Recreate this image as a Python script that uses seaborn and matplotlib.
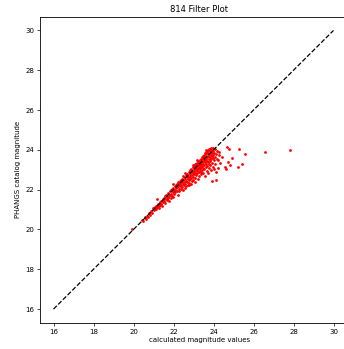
import matplotlib
matplotlib.use("Agg")
import matplotlib.pyplot as plt
import seaborn as sns
import pandas as pd

title = "814 Filter Plot"
xlabel = "calculated magnitude values"
ylabel = "PHANGS catalog magnitude"
ticks = [16, 18, 20, 22, 24, 26, 28, 30]
line_x = [16, 30]
line_y = [16, 30]

calc_mag = [
    19.92, 20.42, 20.48, 20.55, 20.60, 20.66, 20.71, 20.78, 20.82, 20.88, 20.93, 20.97,
    21.02, 21.05, 21.08, 21.11, 21.14, 21.17, 21.19, 21.22, 21.25, 21.27, 21.30, 21.33,
    21.36, 21.39, 21.42, 21.45, 21.48, 21.51, 21.54, 21.57, 21.59,
    21.62, 21.64, 21.66, 21.69, 21.71, 21.73, 21.76, 21.78, 21.80, 21.82, 21.85, 21.87,
    21.89, 21.91, 21.93, 21.95, 21.97, 21.99, 22.01, 22.03, 22.05, 22.07, 22.09, 22.11,
    22.13, 22.15, 22.17, 22.19, 22.20, 21.96,
    22.22, 22.23, 22.25, 22.27, 22.28, 22.30, 22.32, 22.33, 22.35, 22.37, 22.38, 22.40,
    22.42, 22.43, 22.45, 22.47, 22.48, 22.50, 22.52, 22.53, 22.55, 22.57, 22.58, 22.60,
    22.62, 22.63, 22.65, 22.67, 22.68, 22.70, 22.72, 22.73, 22.75, 22.76, 22.77, 22.78,
    22.79, 22.80, 22.46, 22.58,
    22.81, 22.82, 22.84, 22.85, 22.86, 22.88, 22.89, 22.90, 22.92, 22.93, 22.95, 22.96,
    22.97, 22.99, 23.00, 23.01, 23.03, 23.04, 23.05, 23.07, 23.08, 23.09, 23.10, 23.12,
    23.13, 23.14, 23.15, 23.17, 23.18, 23.19, 23.20, 23.21, 23.22, 23.24, 23.25, 23.26,
    23.27, 23.28, 23.29, 23.30, 23.31, 23.32, 23.33, 23.34, 23.35, 23.36, 23.37, 23.38,
    23.39, 23.40, 23.05, 23.18, 22.95,
    23.41, 23.42, 23.43, 23.44, 23.45, 23.46, 23.47, 23.48, 23.49, 23.50, 23.51, 23.52,
    23.53, 23.54, 23.55, 23.56, 23.57, 23.58, 23.59, 23.60, 23.61, 23.62, 23.63, 23.64,
    23.65, 23.66, 23.67, 23.68, 23.69, 23.70, 23.71, 23.72, 23.73, 23.74, 23.75, 23.76,
    23.77, 23.78, 23.79, 23.80, 23.81, 23.82, 23.83, 23.84, 23.85, 23.86, 23.87, 23.88,
    23.89, 23.90, 23.91, 23.92, 23.93, 23.94, 23.95, 23.96, 23.97, 23.98, 23.99, 23.60,
    24.01, 24.03, 24.04, 24.06, 24.07, 24.09, 24.11, 24.12, 24.14, 24.15, 24.17, 24.20,
    24.22, 24.25, 24.27, 24.33, 24.42,
    24.57, 24.64, 24.65, 24.70, 24.77, 24.80, 24.90, 25.24, 25.25, 25.42, 25.58, 26.55, 27.80,
]

phangs_mag = [
    20.00, 20.47, 20.40, 20.62, 20.52, 20.70, 20.63, 20.85, 20.74, 20.95, 20.81, 21.06,
    20.98, 21.15, 21.02, 21.20, 21.05, 21.55, 21.12, 21.30, 21.18, 21.10, 21.38, 21.25,
    21.44, 21.30, 21.20, 21.52, 21.38, 21.60, 21.42, 21.35, 21.66,
    21.55, 21.75, 21.48, 21.62, 21.85, 21.58, 21.70, 21.45, 21.92, 21.74, 21.60, 21.98,
    21.80, 21.68, 22.05, 21.88, 21.62, 22.10, 21.95, 21.80, 22.18, 22.00, 21.86, 22.25,
    22.08, 21.92, 22.30, 22.12, 21.75, 22.28,
    22.20, 22.38, 22.05, 22.28, 21.95, 22.45, 22.18, 22.35, 22.02, 22.50, 22.25, 22.40,
    22.12, 22.55, 22.30, 22.00, 22.48, 22.22, 22.62, 22.38, 22.10, 22.55, 22.30, 22.72,
    22.45, 22.18, 22.62, 22.38, 22.80, 22.55, 22.25, 22.70, 22.48, 22.22, 22.88, 22.62,
    22.35, 22.78, 22.70, 22.85,
    22.52, 23.00, 22.68, 22.30, 22.88, 22.58, 23.05, 22.75, 22.42, 22.95, 22.65, 23.12,
    22.85, 22.50, 23.05, 22.78, 23.20, 22.92, 22.60, 23.10, 22.85, 22.40, 23.28, 23.00,
    22.72, 23.18, 22.95, 23.35, 23.08, 22.82, 22.55, 23.25, 23.02, 23.42, 23.15, 22.88,
    23.32, 22.68, 23.10, 23.48, 23.22, 22.95, 23.40, 23.05, 22.78, 23.55, 23.30, 23.12,
    22.88, 23.45, 23.30, 23.50, 23.22,
    23.20, 23.62, 22.98, 23.38, 23.70, 23.10, 23.52, 22.85, 23.30, 23.75, 23.45, 23.02,
    23.62, 23.25, 23.82, 23.50, 22.70, 23.38, 23.70, 23.12, 23.88, 23.55, 23.28, 23.78,
    22.95, 23.45, 23.92, 23.62, 23.18, 23.85, 23.40, 23.98, 23.70, 22.82, 23.55, 24.02,
    23.30, 23.80, 23.08, 23.95, 23.62, 23.45, 24.05, 23.22, 23.75, 23.90, 23.52, 22.98,
    24.08, 23.68, 23.35, 23.85, 24.00, 22.42, 23.58, 23.15, 23.92, 23.72, 24.11, 24.00,
    23.48, 23.82, 23.05, 23.65, 24.02, 23.30, 23.78, 22.90, 22.47, 23.55, 23.95, 23.48,
    23.10, 23.72, 23.89, 23.34, 23.64,
    23.14, 23.02, 24.16, 23.41, 24.03, 23.23, 23.58, 23.14, 24.03, 23.31, 23.81, 23.89, 24.01,
]

df = pd.DataFrame({"calc": calc_mag, "phangs": phangs_mag})
line_df = pd.DataFrame({"x": line_x, "y": line_y})

fs = 5.0
fig = plt.figure(figsize=(3.44, 3.49), dpi=100)
# axes extends past the right edge of the figure (right spine cut off)
ax = fig.add_axes([39.5 / 344, 26 / 349, 320 / 344, 306.5 / 349])

sns.lineplot(data=line_df, x="x", y="y", ax=ax, color="black", linestyle="--",
             linewidth=0.9, dashes=(2.5, 1.5))
sns.scatterplot(data=df, x="calc", y="phangs", ax=ax, color="red", s=4,
                marker="o", linewidth=0)

ax.set_xlim(15.3, 15.3 + 320 / 20.0)
ax.set_ylim(15.3, 30.7)
ax.set_xticks(ticks)
ax.set_yticks(ticks)
ax.set_title(title, fontsize=6.0, pad=3)
ax.set_xlabel(xlabel, fontsize=fs, labelpad=2)
ax.set_ylabel(ylabel, fontsize=fs, labelpad=3)
ax.tick_params(labelsize=fs, length=2, width=0.5, pad=2)
for sp in ax.spines.values():
    sp.set_linewidth(0.6)

fig.savefig("out.png", dpi=100)
